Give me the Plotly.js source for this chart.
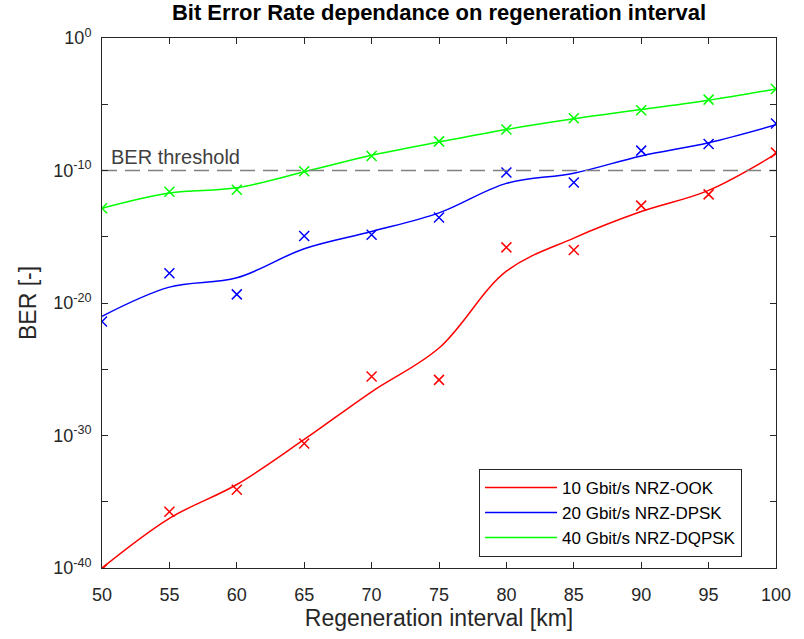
<!DOCTYPE html>
<html>
<head>
<meta charset="utf-8">
<script src="https://cdn.plot.ly/plotly-3.0.1.min.js"></script>
<style>html,body{margin:0;padding:0;background:#fff;}#chart{width:804px;height:639px;}</style>
</head>
<body>
<div id="chart"></div>
<script>
// Regeneration interval [km]
const distanceKm = [50, 55, 60, 65, 70, 75, 80, 85, 90, 95, 100];

const ookMeasExp   = [-40.1, -35.75, -34.1, -30.6, -25.55, -25.8, -15.8, -16.0, -12.65, -11.8, -8.65];
const dpskMeasExp  = [-21.4, -17.75, -19.35, -14.95, -14.85, -13.55, -10.15, -10.9, -8.5, -8.0, -6.45];
const dqpskMeasExp = [-12.85, -11.6, -11.45, -10.05, -8.9, -7.8, -6.9, -6.05, -5.45, -4.65, -3.85];

// Fitted (smoothed) curve exponents at the same distances
const ookFitExp   = [-40.0, -36.25, -33.7, -30.3, -26.7, -23.4, -17.6, -15.1, -13.1, -11.5, -8.75];
const dpskFitExp  = [-21.0, -18.8, -18.1, -15.9, -14.6, -13.2, -10.97, -10.2, -8.9, -7.9, -6.55];
const dqpskFitExp = [-12.85, -11.7, -11.3, -10.1, -8.85, -7.85, -6.9, -6.1, -5.4, -4.7, -3.85];

const seriesNames = ["10 Gbit/s NRZ-OOK", "20 Gbit/s NRZ-DPSK", "40 Gbit/s NRZ-DQPSK"];
const seriesColors = ["#ff0000", "#0000ff", "#00ff00"];

const berThreshold = 1e-10;
const yTickExp = [0, -5, -10, -15, -20, -25, -30, -35, -40];
const xTicks = [50, 55, 60, 65, 70, 75, 80, 85, 90, 95, 100];

const toBer = a => a.map(e => Math.pow(10, e));

const fits = [ookFitExp, dpskFitExp, dqpskFitExp];
const meas = [ookMeasExp, dpskMeasExp, dqpskMeasExp];

const traces = [];
for (let i = 0; i < 3; i++) {
  traces.push({
    x: distanceKm, y: toBer(fits[i]), type: "scatter", mode: "lines",
    name: seriesNames[i], line: {color: seriesColors[i], width: 1.5, shape: "spline", smoothing: 1.0}
  });
}
for (let i = 0; i < 3; i++) {
  traces.push({
    x: distanceKm, y: toBer(meas[i]), type: "scatter", mode: "markers",
    showlegend: false,
    marker: {symbol: "x-thin-open", size: 10, color: seriesColors[i], line: {color: seriesColors[i], width: 1.5}}
  });
}
traces.push({
  x: [distanceKm[0], distanceKm[distanceKm.length - 1]], y: [berThreshold, berThreshold],
  type: "scatter", mode: "lines", showlegend: false,
  line: {color: "#808080", width: 1.3, dash: "15px,8px"}
});

const font = "Liberation Sans, Arial, sans-serif";
const layout = {
  width: 804, height: 639,
  margin: {l: 102, r: 28, t: 38, b: 71},
  paper_bgcolor: "#ffffff", plot_bgcolor: "#ffffff",
  font: {family: font, color: "#262626", size: 18},
  title: {text: "<b>Bit Error Rate dependance on regeneration interval</b>", font: {family: font, size: 22, color: "#000"}, x: 0.5, xref: "paper", xanchor: "center", y: 0.993, yref: "container", yanchor: "top", automargin: false},
  xaxis: {
    range: [50, 100], tickvals: xTicks, ticktext: xTicks.map(String),
    ticks: "inside", ticklen: 6, tickcolor: "#262626", tickwidth: 1,
    ticklabelstandoff: 10,
    showline: true, linecolor: "#262626", linewidth: 1, mirror: "ticks",
    showgrid: false, zeroline: false,
    tickfont: {size: 18, color: "#262626"},
    title: {text: "Regeneration interval [km]", font: {size: 23, color: "#262626"}, standoff: 6}
  },
  yaxis: {
    type: "log", range: [-40, 0],
    tickvals: yTickExp.map(e => Math.pow(10, e)),
    ticktext: yTickExp.map(e => (e % 10 === 0) ? ("10<sup>" + e + "</sup>") : ""),
    ticks: "inside", ticklen: 6, tickcolor: "#262626", tickwidth: 1,
    ticklabelstandoff: 6,
    showline: true, linecolor: "#262626", linewidth: 1, mirror: "ticks",
    showgrid: false, zeroline: false,
    tickfont: {size: 18, color: "#262626"},
    title: {text: "BER [-]", font: {size: 23, color: "#262626"}, standoff: 10}
  },
  legend: {
    x: 0.9496, xanchor: "right", y: 0.021, yanchor: "bottom",
    bgcolor: "#ffffff", bordercolor: "#262626", borderwidth: 1,
    font: {size: 17, color: "#000"}, tracegroupgap: 0, itemwidth: 72
  },
  annotations: [{
    x: 50.5, y: -10, xref: "x", yref: "y", text: "BER threshold",
    showarrow: false, xanchor: "left", yanchor: "bottom", yshift: 1,
    font: {size: 20, color: "#404040"}
  }],
  showlegend: true
};

Plotly.newPlot("chart", traces, layout, {displayModeBar: false, staticPlot: true});
</script>
</body>
</html>
